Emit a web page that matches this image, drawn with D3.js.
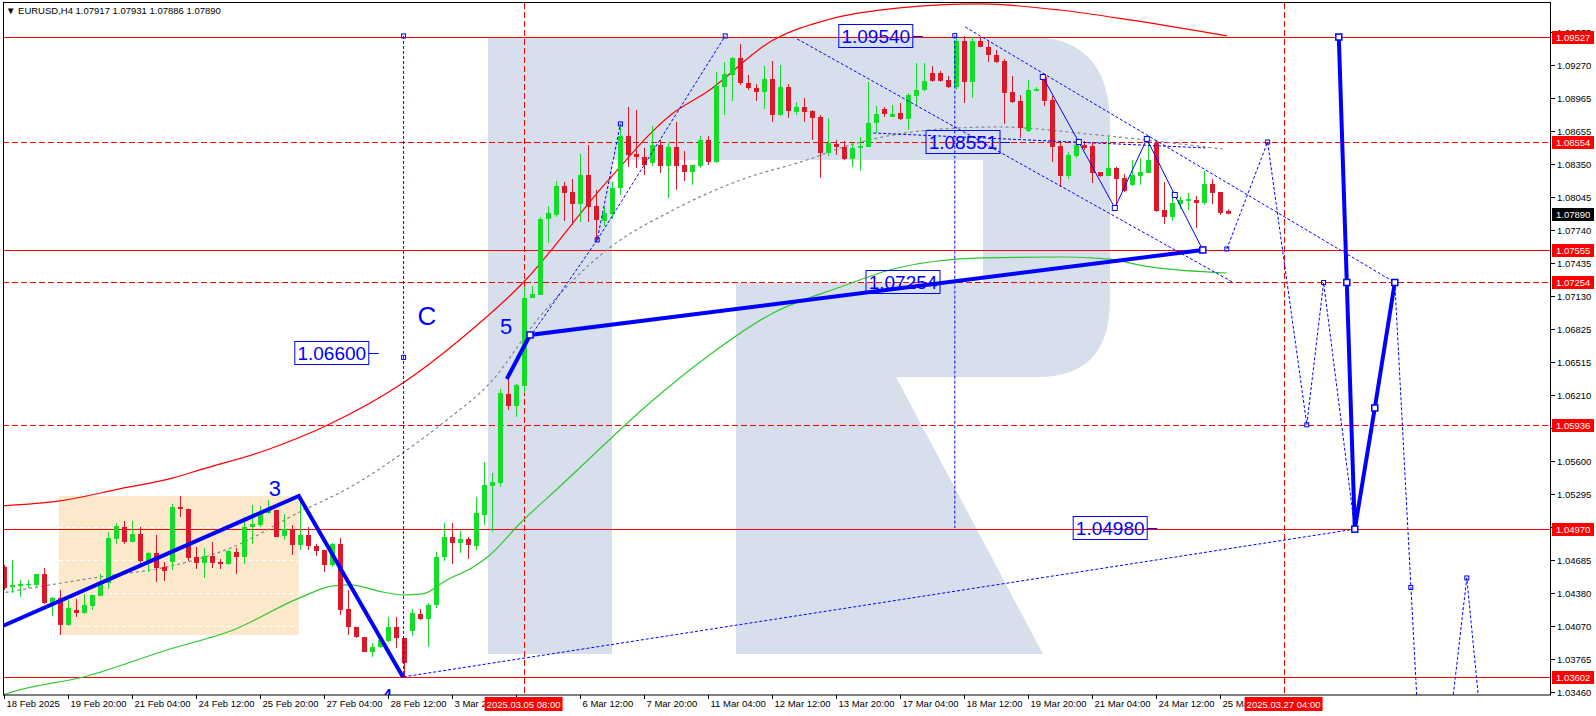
<!DOCTYPE html>
<html>
<head>
<meta charset="utf-8">
<script src="https://cdnjs.cloudflare.com/ajax/libs/d3/7.8.5/d3.min.js"></script>
<style>
  body { margin: 0; background: #fff; }
  svg text { font-family: "Liberation Sans", Arial, sans-serif; }
</style>
</head>
<body>
<svg id="chart" width="1596" height="716"></svg>
<script>
// ---- candles, EURUSD H4, bar 0 = 18 Feb 2025 12:00
var opens = [1.04620,1.04434,1.04444,1.04453,1.04453,1.04555,1.04286,1.04333,1.04083,1.04221,
1.04194,1.04258,1.04351,1.04471,1.04879,1.04990,1.04851,1.04925,1.04675,1.04749,
1.04620,1.04666,1.05175,1.05157,1.04712,1.04657,1.04721,1.04666,1.04647,1.04758,
1.04712,1.04990,1.05008,1.05120,1.05147,1.04907,1.04971,1.04823,1.04916,1.04814,
1.04777,1.04638,1.04833,1.04231,1.04064,1.03971,1.03832,1.03879,1.03934,1.04064,
1.03962,1.04027,1.04184,1.04138,1.04268,1.04712,1.04897,1.04842,1.04879,1.04814,
1.05101,1.05370,1.05397,1.06222,1.06110,1.06296,1.07111,1.07138,1.07842,1.07879,
1.08148,1.08092,1.07981,1.08249,1.07962,1.07824,1.07888,1.08129,1.08611,1.08444,
1.08416,1.08361,1.08527,1.08333,1.08509,1.08342,1.08277,1.08333,1.08574,1.08370,
1.09064,1.09175,1.09333,1.09101,1.09055,1.09018,1.09138,1.08805,1.09064,1.08833,
1.08879,1.08842,1.08787,1.08453,1.08537,1.08509,1.08398,1.08500,1.08509,1.08731,
1.08861,1.08787,1.08824,1.08768,1.08981,1.09037,1.09194,1.09194,1.09129,1.09064,
1.09490,1.09111,1.09490,1.09435,1.09361,1.09305,1.09018,1.08935,1.08657,1.09027,
1.09157,1.08944,1.08518,1.08240,1.08425,1.08527,1.08518,1.08277,1.08240,1.08314,
1.08222,1.08157,1.08240,1.08268,1.08546,1.07925,1.07861,1.07981,1.08009,1.08018,
1.07990,1.08166,1.08092,1.07917];
var highs = [1.04638,1.04684,1.04499,1.04499,1.04555,1.04610,1.04342,1.04407,1.04314,1.04323,
1.04370,1.04360,1.04555,1.04944,1.05027,1.05046,1.05046,1.04990,1.04758,1.04916,
1.04666,1.05203,1.05277,1.05157,1.04805,1.04796,1.04851,1.04694,1.04777,1.04796,
1.05083,1.05194,1.05184,1.05240,1.05147,1.05110,1.05008,1.05268,1.04990,1.04833,
1.04777,1.04842,1.04888,1.04407,1.04064,1.03971,1.03916,1.03990,1.04157,1.04157,
1.03962,1.04231,1.04231,1.04286,1.04758,1.05027,1.05027,1.04953,1.04897,1.05268,
1.05592,1.05490,1.06268,1.06360,1.06314,1.07212,1.07222,1.07861,1.07962,1.08194,
1.08185,1.08212,1.08444,1.08527,1.08111,1.07953,1.08185,1.08722,1.08879,1.08851,
1.08500,1.08703,1.08574,1.08546,1.08740,1.08472,1.08342,1.08611,1.08611,1.09203,
1.09296,1.09342,1.09463,1.09175,1.09092,1.09259,1.09305,1.09268,1.09092,1.08925,
1.08963,1.08851,1.08805,1.08777,1.08574,1.08564,1.08546,1.08601,1.09111,1.08888,
1.08879,1.08898,1.08916,1.09009,1.09287,1.09287,1.09259,1.09213,1.09166,1.09546,
1.09537,1.09527,1.09518,1.09490,1.09407,1.09324,1.09166,1.08990,1.09129,1.09064,
1.09185,1.08981,1.08555,1.08462,1.08564,1.08564,1.08555,1.08277,1.08601,1.08324,
1.08259,1.08388,1.08407,1.08583,1.08564,1.08185,1.08101,1.08046,1.08083,1.08055,
1.08287,1.08212,1.08092,1.07931];
var lows = [1.04407,1.04379,1.04342,1.04425,1.04434,1.04277,1.04166,1.03990,1.04073,1.04157,
1.04184,1.04221,1.04351,1.04416,1.04833,1.04833,1.04851,1.04657,1.04573,1.04481,
1.04490,1.04592,1.05083,1.04675,1.04601,1.04518,1.04610,1.04601,1.04638,1.04555,
1.04647,1.04833,1.04990,1.05110,1.04897,1.04870,1.04731,1.04777,1.04777,1.04721,
1.04573,1.04620,1.04175,1.03990,1.03962,1.03832,1.03786,1.03870,1.03925,1.03870,
1.03601,1.03981,1.04129,1.03879,1.04240,1.04675,1.04647,1.04749,1.04694,1.04777,
1.05008,1.04944,1.05360,1.06073,1.06009,1.06231,1.07111,1.07138,1.07620,1.07861,
1.07824,1.07786,1.07814,1.07814,1.07629,1.07777,1.07842,1.08064,1.08324,1.08314,
1.08249,1.08333,1.08268,1.08037,1.08111,1.08194,1.08157,1.08314,1.08342,1.08361,
1.08805,1.08935,1.09083,1.09037,1.08935,1.08861,1.08740,1.08796,1.08777,1.08805,
1.08740,1.08574,1.08222,1.08425,1.08435,1.08388,1.08324,1.08287,1.08509,1.08638,
1.08787,1.08787,1.08759,1.08666,1.08888,1.09027,1.09111,1.09111,1.09055,1.09037,
1.08916,1.08963,1.09435,1.09296,1.09287,1.08722,1.08916,1.08592,1.08648,1.09027,
1.08888,1.08370,1.08138,1.08212,1.08407,1.08481,1.08175,1.08231,1.08240,1.07972,
1.08092,1.08148,1.08157,1.08268,1.07907,1.07796,1.07824,1.07935,1.07925,1.07759,
1.07972,1.07981,1.07879,1.07886];
var closes = [1.04425,1.04453,1.04462,1.04462,1.04555,1.04286,1.04333,1.04083,1.04240,1.04194,
1.04268,1.04360,1.04471,1.04888,1.04999,1.04851,1.04925,1.04675,1.04749,1.04610,
1.04583,1.05175,1.05157,1.04703,1.04657,1.04721,1.04657,1.04647,1.04768,1.04712,
1.04990,1.05018,1.05129,1.05157,1.04897,1.04971,1.04823,1.04916,1.04814,1.04768,
1.04638,1.04833,1.04221,1.04064,1.03971,1.03832,1.03879,1.03944,1.04064,1.03962,
1.03731,1.04194,1.04138,1.04268,1.04712,1.04897,1.04842,1.04879,1.04823,1.05120,
1.05379,1.05407,1.06231,1.06110,1.06305,1.07111,1.07148,1.07842,1.07898,1.08148,
1.08083,1.07981,1.08249,1.07953,1.07833,1.07898,1.08129,1.08611,1.08435,1.08416,
1.08342,1.08527,1.08333,1.08509,1.08333,1.08277,1.08342,1.08574,1.08370,1.09074,
1.09185,1.09333,1.09101,1.09055,1.09018,1.09138,1.08805,1.09064,1.08842,1.08879,
1.08833,1.08777,1.08453,1.08546,1.08509,1.08398,1.08500,1.08518,1.08731,1.08814,
1.08814,1.08814,1.08768,1.08990,1.09037,1.09120,1.09120,1.09120,1.09064,1.09490,
1.09111,1.09490,1.09435,1.09361,1.09296,1.09009,1.08925,1.08685,1.09037,1.09046,
1.08935,1.08509,1.08240,1.08435,1.08527,1.08500,1.08268,1.08240,1.08314,1.08212,
1.08101,1.08249,1.08277,1.08388,1.07916,1.07861,1.07990,1.08018,1.08027,1.07990,
1.08166,1.08083,1.07898,1.07890];

// ---- axes
var dateLabels = ["18 Feb 2025","19 Feb 20:00","21 Feb 04:00","24 Feb 12:00","25 Feb 20:00","27 Feb 04:00",
  "28 Feb 12:00","3 Mar 20:00",null,"6 Mar 12:00","7 Mar 20:00","11 Mar 04:00","12 Mar 12:00",
  "13 Mar 20:00","17 Mar 04:00","18 Mar 12:00","19 Mar 20:00","21 Mar 04:00","24 Mar 12:00","25 Mar 20:00"];
var priceTicks = [1.09575,1.09270,1.08965,1.08655,1.08350,1.08045,1.07740,1.07435,1.07130,1.06825,
  1.06515,1.06210,1.05905,1.05600,1.05295,1.04990,1.04685,1.04380,1.04070,1.03765,1.03460];

// ---- horizontal levels, time markers
var levelPrices = [1.09527,1.08554,1.07555,1.07254,1.05936,1.04970,1.03602];
var levelDashed = [false,true,false,true,true,false,false];
var lastPrice = 1.07890;
var timeMarkBars = [65,160];
var timeMarkText = ["2025.03.05 08:00","2025.03.27 04:00"];

// ---- indicator curves [bar, price]
var upperBand = [[-0.5,1.05184],[7,1.05231],[14.5,1.05342],[21.2,1.05444],[24.5,1.05518],[32.9,1.05703],
  [40.5,1.05934],[49.9,1.06323],[57,1.06722],[64.9,1.07249],[75.4,1.08185],[83.7,1.08824],[87.9,1.09018],
  [96.2,1.09500],[102.9,1.09685],[112,1.09796],[122,1.09833],[132,1.09777],[140.8,1.09685],[152.9,1.09537]];
var lowerBand = [[-0.5,1.03425],[2,1.03481],[10,1.03601],[20.4,1.03851],[28.7,1.04036],[37,1.04333],
  [41.2,1.04444],[43.3,1.04453],[47.4,1.04388],[49.9,1.04360],[52.4,1.04370],[55.4,1.04499],[58.7,1.04620],
  [60.8,1.04731],[64.6,1.05027],[69.6,1.05369],[81.2,1.06166],[87.9,1.06564],[96.2,1.06972],[104.6,1.07212],
  [111.7,1.07388],[122.4,1.07481],[132.4,1.07490],[137.9,1.07472],[143.3,1.07398],[152.9,1.07342]];
var midLine = [[-0.5,1.04375],[12,1.04527],[20.4,1.04620],[28.7,1.04805],[37,1.05129],[42.9,1.05342],
  [49.9,1.05675],[55.4,1.05981],[60.8,1.06323],[67,1.06935],[75.4,1.07555],[83.7,1.07925],[92.1,1.08203],
  [100.4,1.08388],[105.8,1.08527],[115.8,1.08666],[124.2,1.08694],[136.7,1.08620],[152.4,1.08490]];

// ---- wave markup [bar, price]
var thickWaves = [
  [[-0.5,1.04060],[36.9,1.05277],[49.9,1.03602]],
  [[62.9,1.06360],[65.8,1.06768],[149.9,1.07555]],
  [[166.9,1.09527],[167.9,1.07254],[168.9,1.04970],[171.4,1.06092],[173.9,1.07254]]
];
var thickNodes = [[65.8,1.06768],[149.9,1.07555],[166.9,1.09527],[167.9,1.07254],[168.9,1.04970],[171.4,1.06092],[173.9,1.07254]];
var thinWave = [[129.9,1.09157],[134.4,1.08555],[138.9,1.07944],[142.9,1.08583],[146.4,1.08064],[149.9,1.07555]];
var dashedPaths = [
  [[50,1.03602],[168.9,1.04970]],
  [[50,1.09537],[50,1.03602]],
  [[118.9,1.09540],[118.9,1.04980]],
  [[65.8,1.06750],[74.2,1.07648],[77.1,1.08722]],
  [[74.2,1.07648],[90.2,1.09537]],
  [[99.2,1.09509],[153.7,1.07254]],
  [[120.2,1.09620],[173.9,1.07254]],
  [[108.7,1.08638],[150.2,1.08500]],
  [[152.9,1.07564],[158,1.08555],[162.9,1.05936],[165,1.07254],[168.9,1.04970]],
  [[173.9,1.07254],[176.8,1.03200]],
  [[181.0,1.03300],[182.9,1.04518],[184.5,1.03300]]
];
var dashNodes = [[77.1,1.08722],[90.2,1.09537],[74.2,1.07648],[158,1.08555],[152.9,1.07564],
  [162.9,1.05936],[165,1.07254],[175.9,1.04430],[182.9,1.04518],[50,1.06560],[50,1.09537],[118.9,1.09540]];
var priceTags = [["1.06600",46.9,1.06600],["1.09540",114.9,1.09540],["1.08551",125.8,1.08551],
  ["1.07254",118.3,1.07254],["1.04980",144.2,1.04980]];
var waveLabels = [["3",33.9,1.05351,22],["5",62.8,1.06851,22],["C",52.9,1.06944,26],["4",47.9,1.03425,22]];
var boxBars = [6.9,36.9], boxPrices = [1.05277,1.03990];

var BLUE = "#0000ff", RED = "#ff0000", BULL = "#14dc28", BEAR = "#dc1928";

var svg = d3.select("#chart");
var x = d3.scaleLinear().domain([0,193]).range([3.6,1547.6]);
var y = d3.scaleLinear().domain([1.03434,1.09842]).range([695,3]);
var line = d3.line().x(function(d){return x(d[0]);}).y(function(d){return y(d[1]);});
var smooth = d3.line().x(function(d){return x(d[0]);}).y(function(d){return y(d[1]);}).curve(d3.curveMonotoneX);
var defs = svg.append("defs");

defs.append("clipPath").attr("id","plot").append("rect").attr("x",3).attr("y",3).attr("width",1547).attr("height",692);
var g = svg.append("g").attr("clip-path","url(#plot)");

// watermark
g.append("path")
  .attr("d","M488,37 L1030,37 Q1110,37 1110,125 L1110,300 Q1110,377 1038,377 L896,377 L1043,654 L736,654 L736,283 L983,283 L983,160 L612,160 L612,654 L488,654 Z")
  .attr("fill","#d6dfeb");

// highlight box + grid inside it
g.append("rect")
  .attr("x",x(boxBars[0])).attr("y",y(boxPrices[0]))
  .attr("width",x(boxBars[1])-x(boxBars[0])).attr("height",y(boxPrices[1])-y(boxPrices[0]))
  .attr("fill","#fce8ca");
priceTicks.filter(function(p){return p<boxPrices[0] && p>boxPrices[1];}).forEach(function(p){
  g.append("line").attr("x1",x(boxBars[0])).attr("x2",x(boxBars[1]))
    .attr("y1",Math.round(y(p))+0.5).attr("y2",Math.round(y(p))+0.5)
    .attr("stroke","#fff").attr("stroke-dasharray","4,3");
});

// levels
levelPrices.forEach(function(p,i){
  g.append("line").attr("x1",3).attr("x2",1550)
    .attr("y1",Math.round(y(p))+0.5).attr("y2",Math.round(y(p))+0.5)
    .attr("stroke",RED).attr("stroke-width",1)
    .attr("stroke-dasharray",levelDashed[i] ? "6,3" : null);
});
timeMarkBars.forEach(function(b){
  g.append("line").attr("x1",Math.round(x(b))+0.5).attr("x2",Math.round(x(b))+0.5)
    .attr("y1",3).attr("y2",695).attr("stroke",RED).attr("stroke-dasharray","6,3");
});

// indicator curves
g.append("path").attr("d",smooth(upperBand)).attr("fill","none").attr("stroke",RED).attr("stroke-width",1.2);
g.append("path").attr("d",smooth(lowerBand)).attr("fill","none").attr("stroke","#2ec82e").attr("stroke-width",1.2);
g.append("path").attr("d",smooth(midLine)).attr("fill","none").attr("stroke","#7d8794")
  .attr("stroke-width",1.2).attr("stroke-dasharray","3,3");

// candles
var candles = g.append("g");
opens.forEach(function(o,i){
  var c = closes[i], col = c >= o ? BULL : BEAR, cx = Math.round(x(i));
  candles.append("line").attr("x1",cx+0.5).attr("x2",cx+0.5)
    .attr("y1",y(highs[i])).attr("y2",y(lows[i])).attr("stroke",col);
  var top = y(Math.max(o,c)), h = Math.max(1, y(Math.min(o,c)) - top);
  candles.append("rect").attr("x",cx-2).attr("width",5).attr("y",top).attr("height",h).attr("fill",col);
});

// dashed markup
dashedPaths.forEach(function(d){
  g.append("path").attr("d",line(d)).attr("fill","none").attr("stroke",BLUE)
    .attr("stroke-width",1).attr("stroke-dasharray","3,2");
});
// thin wave
g.append("path").attr("d",line(thinWave)).attr("fill","none").attr("stroke",BLUE).attr("stroke-width",1);
// thick waves
thickWaves.forEach(function(d){
  g.append("path").attr("d",line(d)).attr("fill","none").attr("stroke",BLUE).attr("stroke-width",4);
});
// nodes
dashNodes.forEach(function(d){
  g.append("rect").attr("x",x(d[0])-2).attr("y",y(d[1])-2).attr("width",4).attr("height",4)
    .attr("fill","none").attr("stroke",BLUE).attr("stroke-width",1);
});
thinWave.forEach(function(d){
  g.append("rect").attr("x",x(d[0])-2.5).attr("y",y(d[1])-2.5).attr("width",5).attr("height",5)
    .attr("fill","#fff").attr("stroke",BLUE).attr("stroke-width",1);
});
thickNodes.forEach(function(d){
  g.append("rect").attr("x",x(d[0])-3).attr("y",y(d[1])-3).attr("width",6).attr("height",6)
    .attr("fill","#fff").attr("stroke",BLUE).attr("stroke-width",1.5);
});

// price tags
priceTags.forEach(function(t){
  var xe = x(t[1]), yy = Math.round(y(t[2]));
  g.append("rect").attr("x",xe-84).attr("y",yy-11.5).attr("width",74).attr("height",23)
    .attr("fill","none").attr("stroke",BLUE).attr("stroke-width",1);
  g.append("line").attr("x1",xe-10).attr("x2",xe).attr("y1",yy+0.5).attr("y2",yy+0.5).attr("stroke",BLUE);
  g.append("text").attr("x",xe-47).attr("y",yy+7).attr("text-anchor","middle")
    .attr("font-size",19).attr("fill",BLUE).text(t[0]);
});
// wave labels
waveLabels.forEach(function(t){
  g.append("text").attr("x",x(t[1])).attr("y",y(t[2])).attr("dy","0.36em").attr("text-anchor","middle")
    .attr("font-size",t[3]).attr("fill",BLUE).text(t[0]);
});

// frame
svg.append("rect").attr("x",3.5).attr("y",2.5).attr("width",1547).attr("height",692.5)
  .attr("fill","none").attr("stroke","#000").attr("stroke-width",1);

// price axis (tick labels under a badge keep only their uncovered part)
var badges = levelPrices.concat([lastPrice]).map(function(p){ return Math.round(y(p)); });
priceTicks.forEach(function(p,k){
  var yy = Math.round(y(p))+0.5;
  svg.append("line").attr("x1",1551).attr("x2",1555).attr("y1",yy).attr("y2",yy).attr("stroke","#000");
  var t = svg.append("text").attr("x",1557).attr("y",yy).attr("dy","0.35em").attr("font-size",9.5)
    .text(d3.format(".5f")(p));
  var hit = badges.filter(function(b){ return Math.abs(b-yy) < 12; })[0];
  if (hit !== undefined) {
    var top = hit - 6, bot = hit + 7;
    var cr = yy < hit ? [0, top] : [bot, 716];
    defs.append("clipPath").attr("id","pt"+k).append("rect")
      .attr("x",1552).attr("width",44).attr("y",cr[0]).attr("height",Math.max(0,cr[1]-cr[0]));
    t.attr("clip-path","url(#pt"+k+")");
  }
});
function priceBadge(p,bg){
  var yy = Math.round(y(p));
  svg.append("rect").attr("x",1552).attr("y",yy-6).attr("width",42).attr("height",13).attr("fill",bg);
  svg.append("text").attr("x",1556).attr("y",yy+0.5).attr("dy","0.35em").attr("font-size",9.5)
    .attr("fill","#fff").text(d3.format(".5f")(p));
}
levelPrices.forEach(function(p){ priceBadge(p,RED); });
priceBadge(lastPrice,"#000");

// time axis (labels running into a red marker are cut at its edge)
var markLeft = timeMarkBars.map(function(b){ return x(b)-39; });
dateLabels.forEach(function(t,k){
  var xx = Math.round(x(k*8))+0.5;
  svg.append("line").attr("x1",xx).attr("x2",xx).attr("y1",695).attr("y2",699).attr("stroke","#000");
  if (!t) return;
  var lab = svg.append("text").attr("x",xx+2).attr("y",707).attr("font-size",9.5).text(t);
  var edge = markLeft.filter(function(m){ return m > xx && m < xx+62; })[0];
  if (edge !== undefined) {
    defs.append("clipPath").attr("id","dl"+k).append("rect")
      .attr("x",xx).attr("y",696).attr("width",edge-xx).attr("height",20);
    lab.attr("clip-path","url(#dl"+k+")");
  }
});
timeMarkBars.forEach(function(b,i){
  var xx = x(b);
  svg.append("rect").attr("x",xx-39).attr("y",697).attr("width",78).attr("height",14).attr("fill",RED);
  svg.append("text").attr("x",xx).attr("y",707.5).attr("text-anchor","middle").attr("font-size",9.5)
    .attr("fill","#fff").text(timeMarkText[i]);
});

// title
svg.append("text").attr("x",6).attr("y",14).attr("font-size",9.5)
  .text("\u25BC EURUSD,H4  1.07917 1.07931 1.07886 1.07890");
</script>
</body>
</html>
